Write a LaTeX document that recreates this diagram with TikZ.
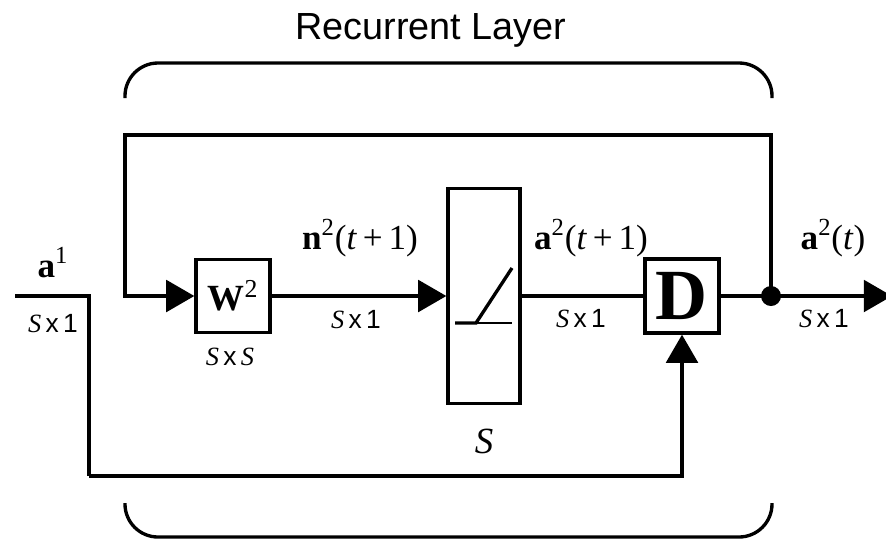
\documentclass[tikz,border=0pt]{standalone}
\usepackage{fontspec}
\setmainfont{Liberation Serif}
\setsansfont{Liberation Sans}
\usepackage{tikz}
\usetikzlibrary{arrows.meta,positioning,calc}
\newcommand{\sizelbl}[1]{{\itshape S}\,{\sffamily x}\,#1}

\begin{document}
\begin{tikzpicture}[x=0.02cm, y=-0.02cm,
    wire/.style={line width=1.9pt},
    flow/.style={wire, -{Triangle[length=16pt,width=18pt]}},
    blockbox/.style={draw, line width=1.9pt, fill=white, inner sep=0pt},
    bigsym/.style={font=\fontsize{20}{23}\selectfont},
    dimtxt/.style={font=\fontsize{15}{17}\selectfont},
    bracket/.style={line width=1.9pt, rounded corners=0.66cm}]
  \useasboundingbox (0,0) rectangle (886,539);

  \node[anchor=base, font=\sffamily\fontsize{21.5}{25}\selectfont] (title) at (431,39) {Recurrent Layer};
  \draw[bracket] (125,98) |- (772,63) -- (772,98);
  \draw[bracket] (125,503) |- (772,537) -- (772,503);

  \node[blockbox, minimum width=1.48cm, minimum height=1.46cm] (W) at (233,296) {\fontsize{21}{24}\selectfont\textbf{W}\textsuperscript{2}};
  \node[blockbox, minimum width=1.44cm, minimum height=4.3cm] (F) at (484,296) {};
  \node[blockbox, minimum width=1.48cm, minimum height=1.48cm] (D) at (682,296) {\fontsize{41}{44}\selectfont\textbf{D}};
  \node[circle, fill, inner sep=0pt, minimum size=0.4cm] (J) at (771,296) {};

  \coordinate (a1) at (15,296);
  \coordinate (a1c) at (89,296);
  \coordinate (a1b) at (89,476);
  \coordinate (fbR) at (771,135);
  \coordinate (fbL) at (125,135);
  \coordinate (out) at (892,296);

  \draw[wire] (a1) -- (a1c) -- (a1b);
  \draw[flow] (a1b) -| (D.south);
  \draw[flow] (J.center) -- (fbR) -- (fbL) |- (W.west);
  \draw[flow] (W.east) -- (F.west);
  \draw[wire] (F.east) -- (D.west);
  \draw[wire] (D.east) -- (J.center);
  \draw[flow] (J.center) -- (out);

  \draw[line width=1.9pt] (455,323) -- (476,323) -- (512,268);
  \draw[line width=1pt] (476,323) -- (512,323);

  \node[bigsym, anchor=base] (a1lbl) at (53,277) {\textbf{a}\textsuperscript{1}};
  \node[dimtxt] (a1dim) at (53,324) {\sizelbl{\sffamily 1}};
  \node[dimtxt] (Wdim) at (230,357) {\sizelbl{\itshape S}};
  \node[bigsym, anchor=base] (nlbl) at (360,249) {\textbf{n}\textsuperscript{2}(\textit{t}\,+\,1)};
  \node[dimtxt] (ndim) at (356,320) {\sizelbl{\sffamily 1}};
  \node[font=\fontsize{21}{24}\selectfont\itshape] (Fdim) at (484,441) {S};
  \node[bigsym, anchor=base] (albl) at (591,249) {\textbf{a}\textsuperscript{2}(\textit{t}\,+\,1)};
  \node[dimtxt] (adim) at (581,319) {\sizelbl{\sffamily 1}};
  \node[bigsym, anchor=base] (outlbl) at (833,249) {\textbf{a}\textsuperscript{2}(\textit{t})};
  \node[dimtxt] (outdim) at (824,319) {\sizelbl{\sffamily 1}};
\end{tikzpicture}
\end{document}
